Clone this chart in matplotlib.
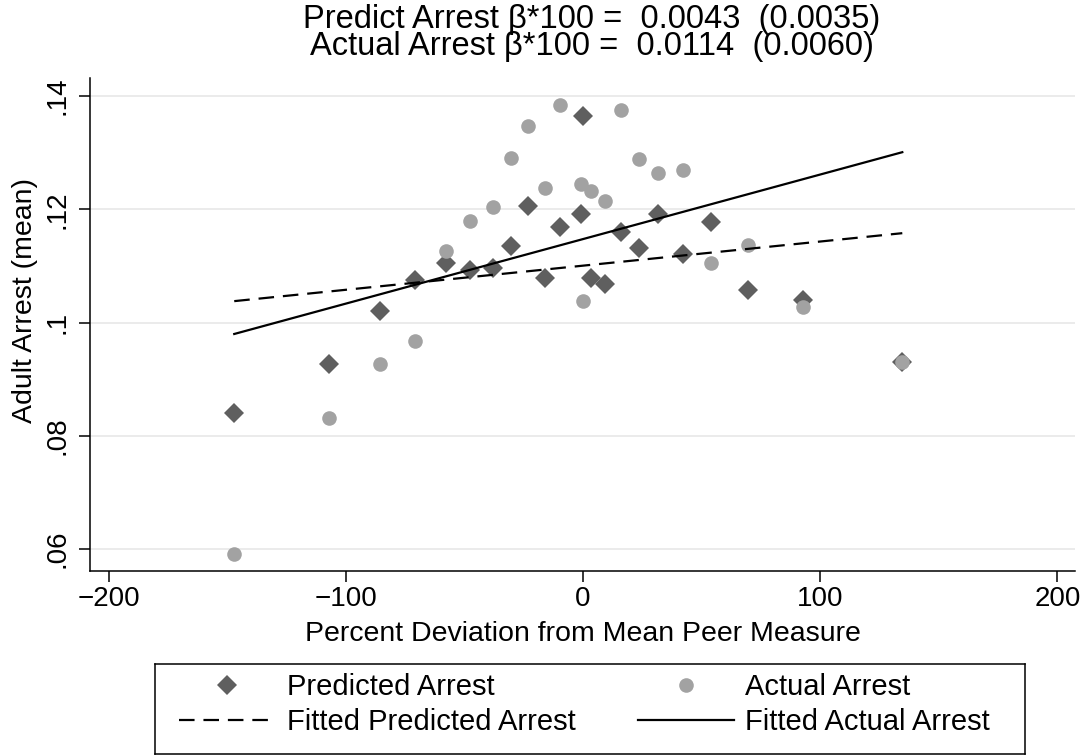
import matplotlib
matplotlib.use("Agg")
import matplotlib.pyplot as plt
from matplotlib.lines import Line2D

plt.rcParams["font.family"] = ["Liberation Sans", "DejaVu Sans"]

# binned peer deviation (%) and mean adult arrest
deviation = [-147.0, -107.1, -85.6, -70.8, -57.8, -47.6, -38.1, -30.4, -23.1, -16.0,
             -9.6, -0.8, 0.0, 3.2, 9.3, 16.2, 23.6, 31.8, 42.2, 54.0, 69.4, 92.9, 134.6]
predicted_arrest = [0.0840, 0.0927, 0.1020, 0.1076, 0.1106, 0.1093, 0.1096, 0.1135,
                    0.1206, 0.1078, 0.1169, 0.1192, 0.1365, 0.1079, 0.1068, 0.1160,
                    0.1132, 0.1191, 0.1121, 0.1178, 0.1058, 0.1040, 0.0931]
actual_arrest = [0.0592, 0.0832, 0.0927, 0.0968, 0.1126, 0.1180, 0.1204, 0.1290,
                 0.1347, 0.1237, 0.1384, 0.1245, 0.1039, 0.1232, 0.1215, 0.1375,
                 0.1289, 0.1265, 0.1269, 0.1105, 0.1138, 0.1028, 0.0930]

# fitted lines, value at the first and last bin
fit_x = [deviation[0], deviation[-1]]
fit_predicted = [0.1038, 0.1158]
fit_actual = [0.0980, 0.1301]

x_ticks = [-200, -100, 0, 100, 200]
x_tick_labels = ["\u2212200", "\u2212100", "0", "100", "200"]
y_ticks = [0.06, 0.08, 0.10, 0.12, 0.14]
y_tick_labels = [".06", ".08", ".1", ".12", ".14"]

title_lines = [
    "Predict Arrest \u03b2*100 =  0.0043  (0.0035)",
    "Actual Arrest \u03b2*100 =  0.0114  (0.0060)",
]

DIAMOND = "#5f5f5f"
CIRCLE = "#a2a2a2"

W, H = 1086, 756
fig = plt.figure(figsize=(W / 100, H / 100), dpi=100)
ax = fig.add_axes([90 / W, (H - 571) / H, 985 / W, 493 / H])

ax.plot(deviation, predicted_arrest, linestyle="none", marker="D", markersize=10,
        color=DIAMOND, markeredgewidth=0, zorder=3)
ax.plot(deviation, actual_arrest, linestyle="none", marker="o", markersize=10.5,
        color=CIRCLE, markeredgewidth=0, zorder=4)
ax.plot(fit_x, fit_predicted, color="black", linewidth=1.6, linestyle=(0, (7, 4)), zorder=5)
ax.plot(fit_x, fit_actual, color="black", linewidth=1.6, zorder=5)

ax.set_xlim(-207.8, 207.4)
ax.set_ylim(0.05615, 0.1432)
ax.set_xticks(x_ticks)
ax.set_xticklabels(x_tick_labels)
ax.set_yticks(y_ticks)
ax.set_yticklabels(y_tick_labels, rotation=90, va="center")

ax.grid(True, axis="y", color="#e9e9e9", linewidth=1.3)
ax.set_axisbelow(True)
for side in ["top", "right"]:
    ax.spines[side].set_visible(False)
for side in ["left", "bottom"]:
    ax.spines[side].set_linewidth(1.1)
ax.tick_params(axis="both", length=8, width=1.1, labelsize=20)
ax.tick_params(axis="x", pad=3)
ax.tick_params(axis="y", pad=6)

ax.set_xlabel("Percent Deviation from Mean Peer Measure", fontsize=20.5, labelpad=6)
ax.set_ylabel("Adult Arrest (mean)", fontsize=20.5)
ax.yaxis.set_label_coords(-0.053, 0.548)

fig.text(592 / W, 1 - 33 / H, "\n".join(title_lines), ha="center", va="center",
         fontsize=23.5, linespacing=0.8)

# legend box
lax = fig.add_axes([155 / W, 2 / H, 870 / W, 90 / H])
lax.set_xticks([])
lax.set_yticks([])
for s in lax.spines.values():
    s.set_linewidth(1.1)
handles = [
    Line2D([], [], linestyle="none", marker="D", markersize=10, color=DIAMOND, markeredgewidth=0),
    Line2D([], [], color="black", linewidth=1.6, linestyle=(0, (7, 4))),
    Line2D([], [], linestyle="none", marker="o", markersize=10.5, color=CIRCLE, markeredgewidth=0),
    Line2D([], [], color="black", linewidth=1.6),
]
labels = ["Predicted Arrest", "Fitted Predicted Arrest", "Actual Arrest", "Fitted Actual Arrest"]
lax.legend(handles, labels, ncol=2, frameon=False, mode="expand", loc="upper left",
           bbox_to_anchor=(0.028, 0.0, 0.932, 0.9), borderaxespad=0, borderpad=0,
           fontsize=21, handlelength=3.3, handletextpad=0.4, labelspacing=0.25)

fig.savefig("out.png", dpi=100)
